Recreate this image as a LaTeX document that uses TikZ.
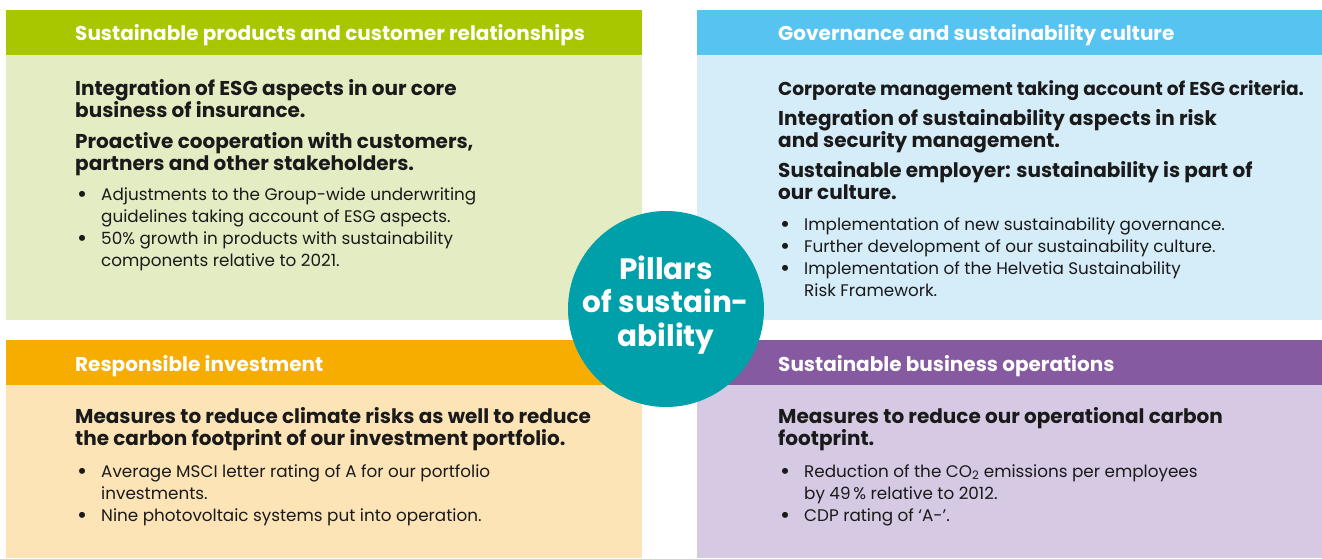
\documentclass[tikz,border=0pt]{standalone}
\usepackage{fontspec}
\setmainfont{Poppins}

\definecolor{pgreen}{HTML}{A8C700}
\definecolor{pgreenbg}{HTML}{E4ECC3}
\definecolor{pblue}{HTML}{56C3F0}
\definecolor{pbluebg}{HTML}{D5ECF9}
\definecolor{porange}{HTML}{F6AD00}
\definecolor{porangebg}{HTML}{FDE4B7}
\definecolor{ppurple}{HTML}{855AA0}
\definecolor{ppurplebg}{HTML}{D6C9E3}
\definecolor{pteal}{HTML}{00A0AA}
\definecolor{ptext}{HTML}{1A1A1A}

% bullet and hanging indent for the item lists
\newcommand{\bul}{\makebox[26pt][l]{\hspace{2pt}\raisebox{-2pt}{\scalebox{1.45}{\textbullet}}}}
\newcommand{\ind}{\hspace*{26pt}}

\begin{document}
\begin{tikzpicture}[x=1pt,y=-1pt,
  head/.style={anchor=base west,inner sep=0pt,text=white,font=\fontsize{20}{22}\selectfont\bfseries},
  lead/.style={anchor=base west,inner sep=0pt,align=left,text=ptext,font=\fontsize{20}{22}\selectfont\bfseries},
  items/.style={anchor=base west,inner sep=0pt,align=left,text=ptext,font=\fontsize{16.8}{22}\selectfont}]
\useasboundingbox (0,0) rectangle (1322,558);

% the four boxes with their title bands
\fill[pgreenbg] (6,10) rectangle (642,320);
\fill[pgreen] (6,10) rectangle (642,55);
\fill[pbluebg] (697,10) rectangle (1322,320);
\fill[pblue] (697,10) rectangle (1322,55);
\fill[porangebg] (6,340) rectangle (642,558);
\fill[porange] (6,340) rectangle (642,385);
\fill[ppurplebg] (697,340) rectangle (1322,558);
\fill[ppurple] (697,340) rectangle (1322,385);

% top left (multi-line nodes sit on the baseline of their last line)
\node[head] (prodhead) at (75,40) {Sustainable products and customer relationships};
\node[lead] (prodcore) at (75,117) {Integration of ESG aspects in our core\\business of insurance.};
\node[lead] (prodcoop) at (75,170) {Proactive cooperation with customers,\\partners and other stakeholders.};
\node[items] (prodlist) at (75,266) {\bul Adjustments to the Group-wide underwriting\\
  \ind guidelines taking account of ESG aspects.\\
  \bul 50\% growth in products with sustainability\\
  \ind components relative to 2021.};

% top right
\node[head] (govhead) at (778,40) {Governance and sustainability culture};
\node[lead,font=\fontsize{18.6}{22}\selectfont\bfseries] (govmgmt) at (778,95) {Corporate management taking account of ESG criteria.};
\node[lead] (govrisk) at (778,147) {Integration of sustainability aspects in risk\\and security management.};
\node[lead] (govempl) at (778,199) {Sustainable employer: sustainability is part of\\our culture.};
\node[items] (govlist) at (778,296) {\bul Implementation of new sustainability governance.\\
  \bul Further development of our sustainability culture.\\
  \bul Implementation of the Helvetia Sustainability\\
  \ind Risk Framework.};

% bottom left
\node[head] (invhead) at (75,371) {Responsible investment};
\node[lead] (invclim) at (75,445) {Measures to reduce climate risks as well to reduce\\the carbon footprint of our investment portfolio.};
\node[items] (invlist) at (75,521) {\bul Average MSCI letter rating of A for our portfolio\\
  \ind investments.\\
  \bul Nine photovoltaic systems put into operation.};

% bottom right
\node[head] (opshead) at (778,371) {Sustainable business operations};
\node[lead] (opscarb) at (778,445) {Measures to reduce our operational carbon\\footprint.};
\node[items] (opslist) at (778,521) {\bul Reduction of the CO\textsubscript{2} emissions per employees\\
  \ind by 49\,\% relative to 2012.\\
  \bul CDP rating of ‘A-’.};

% centre disc
\node[circle,fill=pteal,minimum size=196pt,inner sep=0pt] (pillars) at (666,309) {};
\node[align=center,inner sep=0pt,text=white,yshift=4pt,
  font=\fontsize{29.5}{33.5}\selectfont\bfseries] (pillarstext) at (pillars.center) {Pillars\\of sustain-\\ability};
\end{tikzpicture}
\end{document}
